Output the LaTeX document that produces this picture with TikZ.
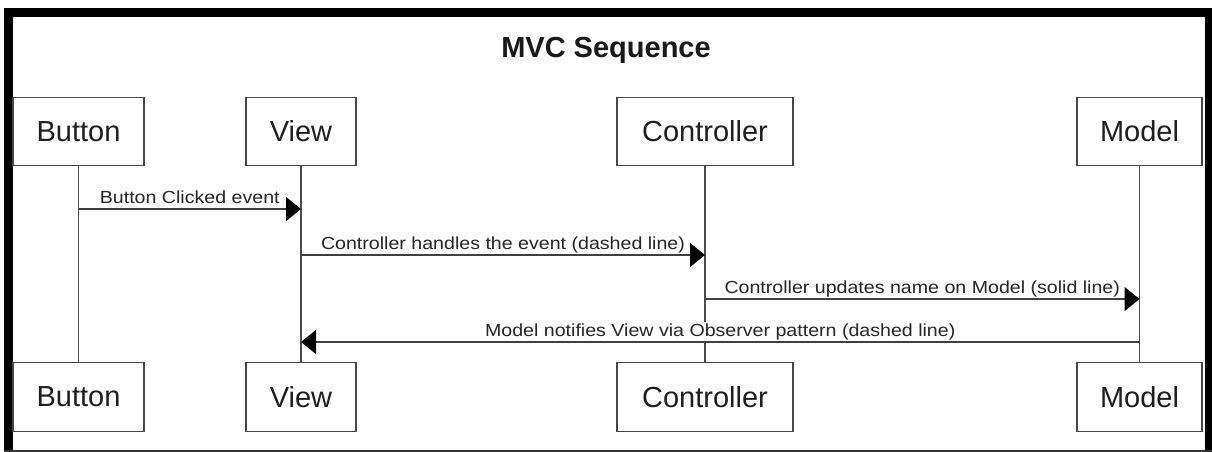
\documentclass[tikz,border=0pt]{standalone}
\usepackage{fontspec}
\setmainfont{Liberation Sans}
\newfontfamily\msgfont[FakeStretch=1.12]{Liberation Sans}
\usetikzlibrary{arrows.meta}

\begin{document}
\begin{tikzpicture}[x=1pt,y=-1pt,
  actor/.style={draw=black!72, line width=1.3pt, fill=white, inner sep=0pt,
    minimum height=68.5pt, font=\fontsize{29}{34}\selectfont, text=black!88},
  lifeline/.style={draw=black!70, line width=1.3pt},
  msg/.style={draw=black!75, line width=1.3pt,
    -{Triangle[length=15pt,width=24pt,color=black]}},
  msglabel/.style={anchor=base, yshift=6pt, inner xsep=1pt, inner ysep=1pt,
    fill=white, font=\msgfont\fontsize{17.5}{20}\selectfont, text=black!85},
  frame/.style={fill=black}]

% canvas and frame
\useasboundingbox (0,0) rectangle (1212,452);
\fill[white] (0,0) rectangle (1212,452);
\fill[frame] (4,8) rectangle (1212,17);
\fill[frame] (4,8) rectangle (13,452);
\fill[frame] (1205,8) rectangle (1212,452);
\fill[black!80] (4,449.5) rectangle (1212,452);

% title
\node[anchor=base, inner sep=0pt, font=\fontsize{29}{34}\selectfont\bfseries,
  text=black!90] (title) at (606,58) {MVC Sequence};

% participants (top row)
\node[actor, minimum width=131pt] (bTop) at (78.5,131.5) {Button};
\node[actor, minimum width=110pt] (vTop) at (301,131.5) {View};
\node[actor, minimum width=176pt] (cTop) at (705,131.5) {Controller};
\node[actor, minimum width=125pt] (mTop) at (1139.5,131.5) {Model};

% participants (bottom row)
\node[actor, minimum width=131pt] (bBot) at (78.5,397) {Button};
\node[actor, minimum width=110pt] (vBot) at (301,397) {View};
\node[actor, minimum width=176pt] (cBot) at (705,397) {Controller};
\node[actor, minimum width=125pt] (mBot) at (1139.5,397) {Model};

% lifelines
\draw[lifeline] (bTop.south) -- (bBot.north);
\draw[lifeline] (vTop.south) -- (vBot.north);
\draw[lifeline] (cTop.south) -- (cBot.north);
\draw[lifeline] (mTop.south) -- (mBot.north);

% message levels
\coordinate (y1) at (0,209);
\coordinate (y2) at (0,255);
\coordinate (y3) at (0,299);
\coordinate (y4) at (0,342);

% messages
\draw[msg] (bTop.south |- y1) -- node[msglabel] {Button Clicked event} (vTop.south |- y1);
\draw[msg] (vTop.south |- y2) -- node[msglabel] {Controller handles the event (dashed line)} (cTop.south |- y2);
\draw[msg] (cTop.south |- y3) -- node[msglabel] {Controller updates name on Model (solid line)} (mTop.south |- y3);
\draw[msg] (mTop.south |- y4) -- node[msglabel] {Model notifies View via Observer pattern (dashed line)} (vTop.south |- y4);
\end{tikzpicture}
\end{document}
